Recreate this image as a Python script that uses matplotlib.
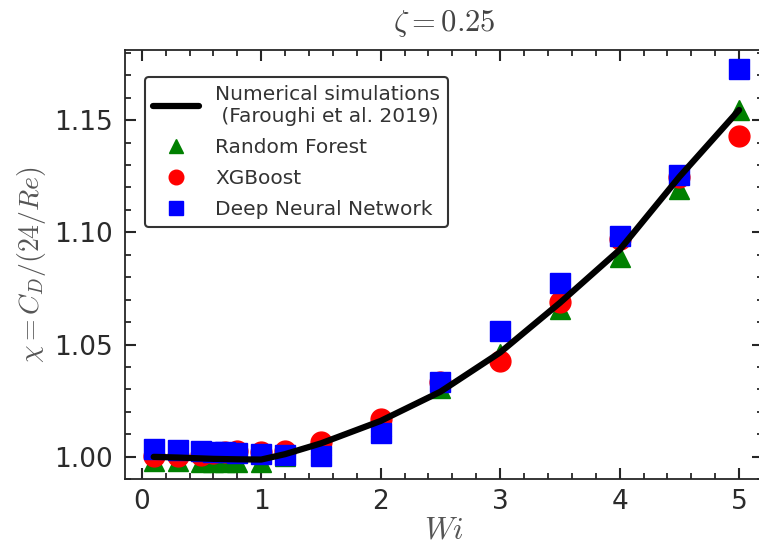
import matplotlib
matplotlib.use("Agg")
import matplotlib.pyplot as plt
from matplotlib.ticker import MultipleLocator

plt.rcParams["mathtext.fontset"] = "cm"
plt.rcParams["font.family"] = ["DejaVu Sans"]

# Weissenberg numbers
wi = [0.1, 0.3, 0.5, 0.6, 0.7, 0.8, 1.0, 1.2, 1.5, 2.0, 2.5, 3.0, 3.5, 4.0, 4.5, 5.0]

# Drag correction factor chi = C_D / (24/Re)
chi_sim = [1.0000, 0.9997, 0.9993, 0.9991, 0.9990, 0.9989, 0.9988, 1.0012,
           1.0060, 1.0160, 1.0290, 1.0465, 1.0686, 1.0922, 1.1247, 1.1545]
chi_rf = [0.9980, 0.9980, 0.9978, 0.9978, 0.9978, 0.9978, 0.9977, 1.0002,
          1.0052, 1.0138, 1.0305, 1.0459, 1.0658, 1.0891, 1.1193, 1.1543]
chi_xgb = [1.0003, 1.0005, 1.0010, 1.0015, 1.0022, 1.0024, 1.0021, 1.0025,
           1.0066, 1.0170, 1.0333, 1.0425, 1.0688, 1.0970, 1.1245, 1.1429]
chi_dnn = [1.0033, 1.0030, 1.0024, 1.0022, 1.0020, 1.0019, 1.0011, 1.0006,
           1.0002, 1.0108, 1.0334, 1.0560, 1.0774, 1.0985, 1.1255, 1.1726]

W, H = 759, 549
fig = plt.figure(figsize=(W / 100, H / 100), dpi=100)
ax = fig.add_axes([125 / W, (H - 479.3) / H, 638 / W, 429.3 / H])

ms = 15
ax.plot(wi, chi_rf, linestyle="none", marker="^", ms=ms, color="green",
        label="Random Forest", zorder=2)
ax.plot(wi, chi_xgb, linestyle="none", marker="o", ms=ms, color="red",
        label="XGBoost", zorder=3)
ax.plot(wi, chi_dnn, linestyle="none", marker="s", ms=ms, color="blue",
        label="Deep Neural Network", zorder=4)
ax.plot(wi, chi_sim, color="black", lw=4.5, solid_capstyle="round",
        label="Numerical simulations\n (Faroughi et al. 2019)", zorder=5)

ax.set_xlim(-0.14, 5.2)
ax.set_ylim(0.99, 1.1812)
ax.xaxis.set_major_locator(MultipleLocator(1))
ax.xaxis.set_minor_locator(MultipleLocator(0.2))
ax.yaxis.set_major_locator(MultipleLocator(0.05))
ax.yaxis.set_minor_locator(MultipleLocator(0.01))
ax.yaxis.set_major_formatter(matplotlib.ticker.FormatStrFormatter("%.2f"))

spine_col = "#262626"
for s in ax.spines.values():
    s.set_color(spine_col)
    s.set_linewidth(1.3)
ax.tick_params(which="both", direction="in", top=True, right=True,
               color=spine_col, labelcolor="#2b2b2b", labelsize=19)
ax.tick_params(which="major", length=8, width=1.5)
ax.tick_params(which="minor", length=4, width=1.3)
ax.tick_params(axis="y", which="major", pad=9)
ax.tick_params(axis="x", which="major", pad=7)

ax.set_xlabel(r"$Wi$", fontsize=22, color="#555555", labelpad=0)
ax.set_ylabel(r"$\chi = C_D/(24/Re)$", fontsize=20, color="#555555", labelpad=4)
ax.set_title(r"$\zeta = 0.25$", fontsize=22, color="#444444", pad=14)

handles, labels = ax.get_legend_handles_labels()
order = [3, 0, 1, 2]
leg = ax.legend([handles[i] for i in order], [labels[i] for i in order],
                loc="upper left", bbox_to_anchor=(0.031, 0.937),
                borderaxespad=0, fontsize=14.5, markerscale=0.7,
                handlelength=2.3, handletextpad=0.8, borderpad=0.4,
                labelspacing=0.6, frameon=True, fancybox=True,
                edgecolor="#333333", framealpha=1)
leg.get_frame().set_linewidth(1.5)
for t in leg.get_texts():
    t.set_color("#333333")

fig.savefig("out.png", dpi=100)
